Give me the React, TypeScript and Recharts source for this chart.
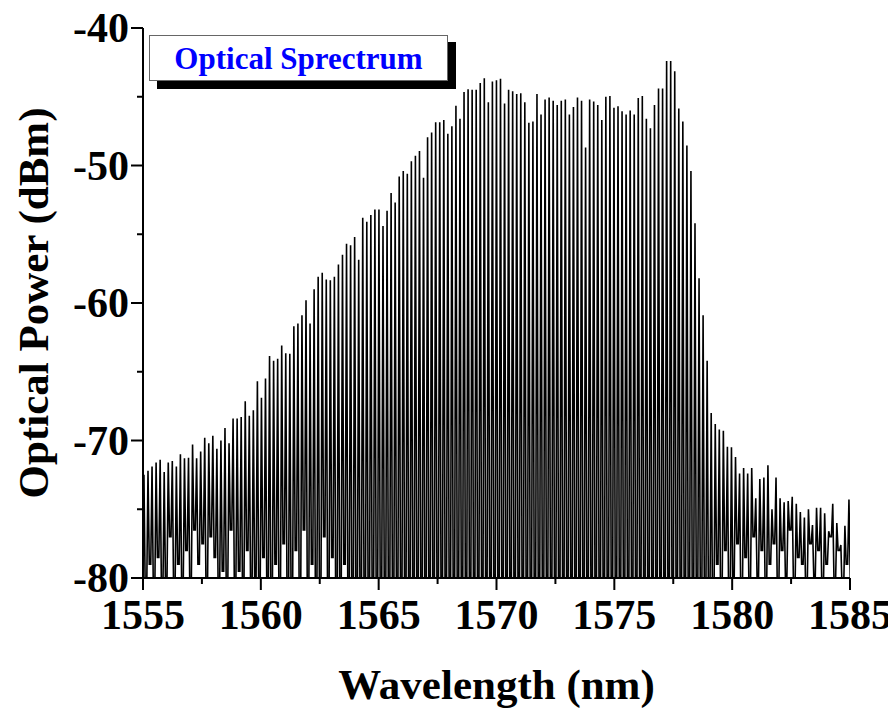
import React from 'react';
import { LineChart, Line, XAxis, YAxis } from 'recharts';

const FONT = "'Liberation Serif', 'Times New Roman', serif";

const xTicks = [1555, 1557.5, 1560, 1562.5, 1565, 1567.5, 1570, 1572.5, 1575, 1577.5, 1580, 1582.5, 1585];
const xMajor = [1555, 1560, 1565, 1570, 1575, 1580, 1585];
const yTicks = [-80, -75, -70, -65, -60, -55, -50, -45, -40];
const yMajor = [-80, -70, -60, -50, -40];

const firstLineNm = 1555.04;
const lineSpacingNm = 0.17193;
const halfWidthNm = 0.055;

const peakPower = [
  -72.5, -72.2, -71.9, -71.6, -71.4, -72.3, -71.6, -71.5, -71.9, -71.0,
  -71.3, -71.25, -70.3, -71.3, -70.8, -69.8, -70.2, -69.65, -70.6, -70.0,
  -69.1, -70.2, -68.4, -68.4, -68.3, -67.15, -68.2, -67.8, -65.7, -66.9,
  -65.5, -63.85, -64.2, -64.05, -63.1, -63.65, -63.7, -61.7, -61.5, -60.9,
  -59.8, -61.5, -59.0, -58.1, -57.8, -58.3, -58.35, -58.1, -57.2, -56.5,
  -55.7, -55.8, -55.2, -56.85, -53.8, -54.1, -53.6, -53.2, -53.2, -54.4,
  -53.3, -52.0, -52.7, -50.8, -50.4, -50.6, -49.7, -49.3, -48.95, -50.9,
  -47.95, -47.6, -46.85, -46.85, -46.7, -47.7, -47.15, -45.65, -46.6, -44.65,
  -44.45, -44.5, -44.5, -44.0, -43.65, -45.4, -43.9, -43.8, -43.7, -45.5,
  -44.5, -44.6, -44.8, -44.75, -45.4, -46.9, -46.8, -44.8, -46.3, -45.2,
  -45.05, -45.3, -45.6, -45.3, -45.2, -46.3, -45.75, -45.05, -45.3, -48.7,
  -45.2, -45.35, -45.6, -46.7, -45.0, -44.95, -45.8, -45.7, -46.05, -46.3,
  -46.0, -46.3, -45.1, -44.95, -46.6, -47.3, -45.6, -44.4, -44.4, -42.4,
  -42.4, -43.15, -45.85, -46.8, -48.55, -50.4, -54.2, -58.2, -60.9, -64.2,
  -68.0, -68.8, -69.2, -69.3, -70.45, -70.5, -71.2, -72.4, -72.0, -72.4,
  -72.0, -74.2, -72.8, -72.7, -71.8, -75.0, -72.7, -74.2, -74.5, -74.4,
  -74.1, -74.6, -75.2, -75.6, -75.0, -76.15, -74.9, -74.9, -75.3, -76.6,
  -74.6, -76.0, -77.6, -76.2, -74.3,
];

const troughPower = [
  -81, -79, -81, -78.5, -81, -80.5, -77, -81, -79, -81,
  -78, -81, -76.5, -79, -77.5, -81, -77, -78.5, -81, -79.5,
  -81, -76.5, -81, -79.5, -81, -78, -81, -80, -81, -78.5,
  -81, -82, -79, -82, -77.5, -82, -82, -78, -82, -76.5,
  -82, -79, -82, -82, -77, -82, -78.5, -82, -82, -79,
  -82, -82, -82, -82, -82, -82, -82, -82, -82, -82,
  -82, -82, -82, -82, -82, -82, -82, -82, -82, -82,
  -82, -82, -82, -82, -82, -82, -82, -82, -82, -82,
  -82, -82, -82, -82, -82, -82, -82, -82, -82, -82,
  -82, -82, -82, -82, -82, -82, -82, -82, -82, -82,
  -82, -82, -82, -82, -82, -82, -82, -82, -82, -82,
  -82, -82, -82, -82, -82, -82, -82, -82, -82, -82,
  -82, -82, -82, -82, -82, -82, -82, -82, -82, -82,
  -82, -82, -82, -82, -82, -82, -82, -82, -82, -82,
  -82, -79, -82, -78, -82, -80, -77.5, -82, -78.5, -81,
  -77, -80, -78, -81, -79, -77.5, -81, -78, -80, -76.5,
  -81, -78.5, -79, -81, -77.5, -80, -78, -81, -79, -77,
  -80.5, -78, -81, -79, -80,
];

const spectrum: { wl: number; p: number }[] = [];
peakPower.forEach((pk, i) => {
  const c = firstLineNm + i * lineSpacingNm;
  const before = i === 0 ? troughPower[0] : troughPower[i - 1];
  spectrum.push({ wl: c - halfWidthNm, p: before });
  spectrum.push({ wl: c, p: pk });
  spectrum.push({ wl: c + halfWidthNm, p: troughPower[i] });
});

const tickFont = { fontFamily: FONT, fontSize: 42, fontWeight: 700, fill: '#000' };

const BottomTick = (props: any) => {
  const { x, y, payload } = props;
  const v = payload.value;
  const major = xMajor.includes(v);
  return (
    <g>
      <line x1={x} y1={y} x2={x} y2={y + (major ? 12 : 6)} stroke="#000" strokeWidth={2} />
      {major && (
        <text x={x} y={y + 51} textAnchor="middle" {...tickFont}>{v}</text>
      )}
    </g>
  );
};

const TopTick = (props: any) => {
  const { x, y, payload } = props;
  const major = xMajor.includes(payload.value);
  return <line x1={x} y1={y} x2={x} y2={y + (major ? 12 : 6)} stroke="#000" strokeWidth={2} />;
};

const LeftTick = (props: any) => {
  const { x, y, payload } = props;
  const v = payload.value;
  const major = yMajor.includes(v);
  return (
    <g>
      <line x1={x} y1={y} x2={x - (major ? 12 : 6)} y2={y} stroke="#000" strokeWidth={2} />
      {major && (
        <text x={x - 14} y={y + 14} textAnchor="end" {...tickFont}>{v}</text>
      )}
    </g>
  );
};

const RightTick = (props: any) => {
  const { x, y, payload } = props;
  const major = yMajor.includes(payload.value);
  return <line x1={x} y1={y} x2={x - (major ? 12 : 6)} y2={y} stroke="#000" strokeWidth={2} />;
};

const W = 896;
const H = 709;

export default function App() {
  return (
    <div style={{ position: 'relative', width: W, height: H, background: '#fff', margin: '-8px 0 0 -8px' }}>
      <LineChart
        width={W}
        height={H}
        data={spectrum}
        margin={{ top: 28, right: 46, left: 0, bottom: 0 }}
      >
        <XAxis
          dataKey="wl"
          type="number"
          domain={[1555, 1585]}
          ticks={xTicks}
          interval={0}
          allowDataOverflow
          height={131}
          tickSize={0}
          tickMargin={0}
          tick={<BottomTick />}
          axisLine={{ stroke: '#000', strokeWidth: 2 }}
          label={{
            value: 'Wavelength (nm)',
            position: 'insideBottom',
            offset: 10,
            style: { fontFamily: FONT, fontSize: 43, fontWeight: 700, fill: '#000' },
          }}
        />
        <XAxis
          xAxisId="top"
          orientation="top"
          dataKey="wl"
          type="number"
          domain={[1555, 1585]}
          ticks={xTicks}
          interval={0}
          allowDataOverflow
          height={0}
          tickSize={0}
          tickMargin={0}
          tick={<TopTick />}
          axisLine={{ stroke: '#000', strokeWidth: 2 }}
        />
        <YAxis
          type="number"
          domain={[-80, -40]}
          ticks={yTicks}
          interval={0}
          allowDataOverflow
          width={143}
          tickSize={0}
          tickMargin={0}
          tick={<LeftTick />}
          axisLine={{ stroke: '#000', strokeWidth: 2 }}
          label={{
            value: 'Optical Power (dBm)',
            angle: -90,
            position: 'insideLeft',
            offset: 33,
            style: { textAnchor: 'middle', fontFamily: FONT, fontSize: 43, fontWeight: 700, fill: '#000' },
          }}
        />
        <YAxis
          yAxisId="right"
          orientation="right"
          type="number"
          domain={[-80, -40]}
          ticks={yTicks}
          interval={0}
          allowDataOverflow
          width={0}
          tickSize={0}
          tickMargin={0}
          tick={<RightTick />}
          axisLine={{ stroke: '#000', strokeWidth: 2 }}
        />
        <Line
          type="linear"
          dataKey="p"
          stroke="#000"
          strokeWidth={1.6}
          dot={false}
          activeDot={false}
          isAnimationActive={false}
        />
      </LineChart>
      <div
        style={{
          position: 'absolute',
          left: 157,
          top: 42,
          width: 299,
          height: 47,
          background: '#000',
        }}
      />
      <div
        style={{
          position: 'absolute',
          left: 149,
          top: 35,
          width: 297,
          height: 44,
          background: '#fff',
          border: '1px solid #666',
          display: 'flex',
          alignItems: 'center',
          justifyContent: 'center',
          fontFamily: FONT,
          fontWeight: 700,
          fontSize: 31,
          color: '#0000ff',
          lineHeight: 1,
        }}
      >
        Optical Sprectrum
      </div>
    </div>
  );
}
